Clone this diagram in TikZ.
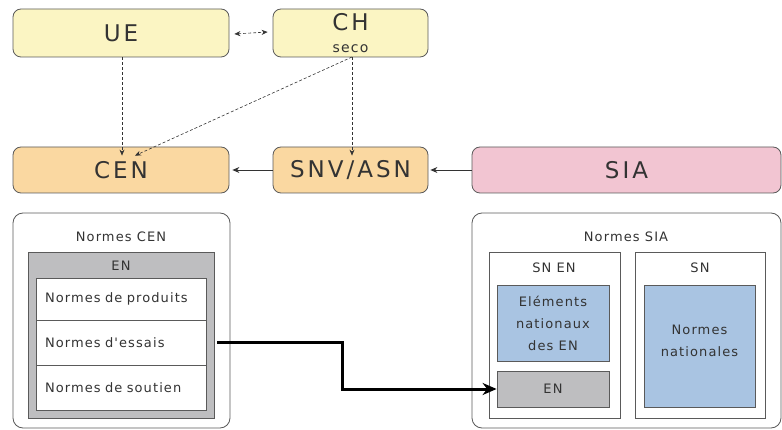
\documentclass[tikz,border=0pt]{standalone}
\usepackage{fontspec}
\setmainfont{DejaVu Sans}
\newfontfamily\labfont[LetterSpace=13]{DejaVu Sans}
\newfontfamily\smfont[LetterSpace=8.5]{DejaVu Sans}
\usetikzlibrary{arrows.meta}
\definecolor{cyel}{HTML}{FBF5C3}
\definecolor{corg}{HTML}{FAD8A1}
\definecolor{cpink}{HTML}{F2C5D2}
\definecolor{cblue}{HTML}{A9C4E2}
\definecolor{cgray}{HTML}{BEBEC0}
\definecolor{cline}{HTML}{5A5A5A}
\definecolor{ctext}{HTML}{333333}
\tikzset{
  topbox/.style={draw=cline, line width=0.8pt, rounded corners=8pt, text=ctext,
    font=\labfont\fontsize{23}{26}\selectfont, inner sep=0pt},
  bigframe/.style={draw=cline, line width=0.8pt, rounded corners=10pt, fill=white, inner sep=0pt},
  sqbox/.style={draw=cline, line width=0.8pt, inner sep=0pt},
  smtext/.style={text=ctext, font=\smfont\fontsize{13}{22}\selectfont, inner sep=0pt},
  listbox/.style={draw=cline, line width=0.6pt, fill=white, minimum height=#1, text width=152pt,
    align=left, inner xsep=9pt, inner ysep=0pt, text=ctext, font=\smfont\fontsize{13}{17}\selectfont},
  dasharr/.style={densely dashed, line width=0.6pt, draw=ctext, -{Stealth[length=6pt,width=5pt]}},
  solarr/.style={line width=0.8pt, draw=ctext, -{Stealth[length=7pt,width=6pt]}},
}
\begin{document}
\begin{tikzpicture}[x=1pt,y=-1pt]
\useasboundingbox (0,0) rectangle (782,430);
% top row
\node[topbox, fill=cyel, minimum width=216pt, minimum height=48pt] (ue) at (121,33) {UE};
\node[topbox, fill=cyel, minimum width=155pt, minimum height=48pt, align=center] (ch) at (350.5,33)
  {CH\\[-4pt]{\smfont\fontsize{14}{16}\selectfont seco}};
\node[topbox, fill=corg, minimum width=216pt, minimum height=46pt] (cen) at (121,170) {CEN};
\node[topbox, fill=corg, minimum width=155pt, minimum height=46pt] (snv) at (350.5,170) {SNV/ASN};
\node[topbox, fill=cpink, minimum width=309pt, minimum height=46pt] (sia) at (626.5,170) {SIA};
% connectors top
\coordinate (chb) at (352,57);
\draw[dasharr, {Stealth[length=6pt,width=5pt]}-{Stealth[length=6pt,width=5pt]}] (ue.east)++(5,1) -- ([xshift=-5pt,yshift=1pt]ch.west);
\draw[dasharr] (ue.south) ++(1,0) -- ([xshift=1pt,yshift=-9pt]cen.north);
\draw[dasharr] (chb) -- ([xshift=14pt,yshift=-9pt]cen.north);
\draw[dasharr] (chb) -- ([xshift=1.5pt,yshift=-9pt]snv.north);
\draw[solarr] (snv.west) -- ([xshift=3pt]cen.east);
\draw[solarr] (sia.west) -- ([xshift=2pt]snv.east);
% left frame
\node[bigframe, minimum width=217pt, minimum height=215pt] (lframe) at (121.5,320.5) {};
\node[smtext] (ncen) at (121,237) {Normes CEN};
\node[sqbox, fill=cgray, minimum width=186pt, minimum height=166pt] (enbox) at (121,335) {};
\node[smtext] (enlab) at (121,266) {EN};
\node[listbox=42pt] (prod) at (121,299) {Normes de produits};
\node[listbox=45pt] (ess) at (121,342.5) {Normes d'essais};
\node[listbox=45pt] (sout) at (121,387.5) {Normes de soutien};
% right frame
\node[bigframe, minimum width=309pt, minimum height=215pt] (rframe) at (626.5,320.5) {};
\node[smtext] (nsia) at (626,237) {Normes SIA};
\node[sqbox, fill=white, minimum width=131pt, minimum height=166pt] (snen) at (554.5,335) {};
\node[smtext] (snenlab) at (554,268) {SN EN};
\node[sqbox, fill=cblue, minimum width=112pt, minimum height=76pt, align=center, smtext] (elem) at (553,323)
  {Eléments\\nationaux\\des EN};
\node[sqbox, fill=cgray, minimum width=112pt, minimum height=36pt, smtext] (enr) at (553,389) {EN};
\node[sqbox, fill=white, minimum width=130pt, minimum height=166pt] (sn) at (700,335) {};
\node[smtext] (snlab) at (700,268) {SN};
\node[sqbox, fill=cblue, minimum width=111pt, minimum height=122pt] (natn) at (699.5,346) {};
\node[smtext, align=center] (natt) at (699.5,340.5) {Normes\\nationales};
% thick arrow
\coordinate (tstart) at (enbox.east |- ess);
\coordinate (tbend) at (342,0);
\draw[line width=3pt, draw=black, -{Stealth[length=14pt,width=12pt]}]
  ([xshift=3pt]tstart) -| (tbend |- enr) -- (enr.west);
\end{tikzpicture}
\end{document}
